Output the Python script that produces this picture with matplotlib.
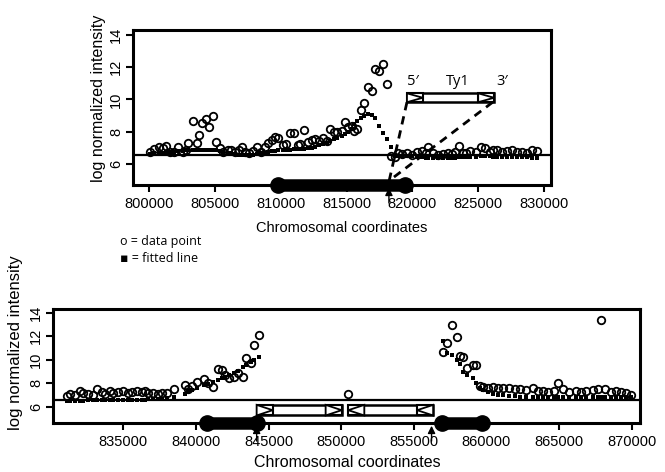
# Ty1 insertion plots: log normalized intensity vs chromosomal coordinates
import matplotlib
matplotlib.use('Agg')
import matplotlib.pyplot as plt
from matplotlib.patches import Rectangle, Polygon
import numpy as np

# ---- top panel data ----
top_x = [800080, 800400, 800780, 801090, 801290, 801590, 801920, 802220, 802550, 802800,
         802980, 803310, 803620, 803820, 804000, 804330, 804580, 804830, 805090, 805390,
         805640, 805970, 806220, 806530, 806800, 807040, 807290, 807610, 807920, 808170,
         808500, 808800, 809060, 809310, 809560, 809810, 810150, 810400, 810700, 811030,
         811280, 811500, 811790, 812090, 812350, 812600, 812930, 813230, 813490, 813740,
         814040, 814250, 814630, 814880, 815130, 815380, 815600, 815810, 816090, 816320,
         816650, 816900, 817150, 817480, 817740, 818040, 818400, 818670, 818920, 819200,
         819560, 819940, 820360, 820700, 821000, 821200, 821580, 821960, 822340, 822720,
         823000, 823230, 823550, 823860, 824100, 824360, 824870, 825250, 825500, 825880,
         826150, 826390, 826770, 827150, 827530, 827910, 828290, 828670, 829050, 829430]
top_y = [6.76, 6.93, 7.07, 7.00, 7.13, 6.76, 6.72, 7.07, 6.76, 6.90,
         7.28, 8.65, 7.28, 7.80, 8.55, 8.76, 8.27, 8.96, 7.38, 6.97,
         6.76, 6.86, 6.86, 6.76, 6.90, 7.03, 6.76, 6.70, 6.82, 7.03,
         6.76, 7.07, 7.31, 7.48, 7.69, 7.59, 7.17, 7.23, 7.90, 7.90,
         7.17, 7.25, 8.10, 7.38, 7.48, 7.52, 7.44, 7.59, 7.44, 8.20,
         8.00, 8.00, 8.04, 8.61, 8.30, 8.35, 8.04, 8.14, 9.33, 9.75,
         10.77, 10.52, 11.90, 11.76, 12.20, 10.94, 6.50, 6.45, 6.66, 6.60,
         6.66, 6.56, 6.76, 6.82, 6.70, 7.07, 6.66, 6.56, 6.62, 6.70,
         6.62, 6.76, 7.13, 6.70, 6.66, 6.82, 6.76, 7.07, 7.00, 6.76,
         6.86, 6.90, 6.76, 6.82, 6.86, 6.76, 6.76, 6.66, 6.86, 6.80]
top_fit = [6.65, 6.66, 6.68, 6.70, 6.72, 6.74, 6.77, 6.80, 6.83, 6.85,
           6.86, 6.88, 6.89, 6.90, 6.90, 6.90, 6.89, 6.87, 6.84, 6.80,
           6.76, 6.71, 6.67, 6.62, 6.59, 6.57, 6.56, 6.57, 6.59, 6.62,
           6.66, 6.71, 6.75, 6.79, 6.83, 6.86, 6.88, 6.89, 6.90, 6.91,
           6.92, 6.93, 6.95, 6.98, 7.02, 7.07, 7.15, 7.24, 7.33, 7.42,
           7.52, 7.60, 7.75, 7.88, 8.00, 8.20, 8.45, 8.65, 8.88, 9.00,
           9.07, 9.02, 8.84, 8.35, 7.90, 7.55, 7.07, 6.47, 6.47, 6.48,
           6.48, 6.47, 6.45, 6.43, 6.40, 6.38, 6.36, 6.35, 6.35, 6.36,
           6.37, 6.39, 6.41, 6.43, 6.44, 6.45, 6.46, 6.47, 6.47, 6.47,
           6.46, 6.46, 6.45, 6.44, 6.43, 6.42, 6.41, 6.41, 6.40, 6.40]

# ---- bottom panel data ----
bot_x = [831100, 831330, 831670, 832020, 832250, 832590, 832890, 833170, 833510, 833740,
         834080, 834310, 834660, 835000, 835340, 835580, 835920, 836270, 836490, 836720,
         837060, 837410, 837640, 837990, 838510, 839250, 839470, 839710, 840050, 840570,
         840850, 841190, 841490, 841770, 841990, 842290, 842620, 842910, 843210, 843420,
         843760, 844010, 844340,
         850440,
         857000, 857290, 857660, 857940, 858170, 858390, 858630, 859040, 859310, 859540,
         859770, 860110, 860460, 860800, 861140, 861560, 861950, 862290, 862750, 863210,
         863550, 863900, 864240, 864630, 864930, 865270, 865680, 866150, 866540, 866880,
         867340, 867680, 867870, 868140, 868600, 868950, 869290, 869630, 869980]
bot_y = [6.91, 7.08, 7.00, 7.36, 7.19, 7.08, 7.00, 7.48, 7.22, 7.08,
         7.36, 7.14, 7.28, 7.36, 7.19, 7.28, 7.36, 7.22, 7.36, 7.19,
         7.14, 7.08, 7.14, 7.19, 7.48, 7.85, 7.48, 7.76, 8.13, 8.36,
         7.99, 7.70, 9.18, 9.12, 8.70, 8.42, 8.50, 8.84, 8.55, 10.12,
         9.75, 11.25, 12.10,
         7.08,
         10.68, 11.45, 12.95, 11.90, 10.30, 10.26, 9.27, 9.55, 9.55, 7.76,
         7.65, 7.56, 7.70, 7.56, 7.56, 7.56, 7.48, 7.48, 7.42, 7.56,
         7.36, 7.36, 7.28, 7.36, 8.04, 7.48, 7.28, 7.36, 7.28, 7.36,
         7.42, 7.48, 13.38, 7.48, 7.28, 7.36, 7.28, 7.19, 7.00]
bot_fit = [6.50, 6.50, 6.51, 6.52, 6.52, 6.53, 6.53, 6.54, 6.55, 6.55,
           6.56, 6.56, 6.57, 6.57, 6.58, 6.58, 6.59, 6.59, 6.60, 6.61,
           6.62, 6.64, 6.66, 6.72, 6.85, 7.10, 7.30, 7.40, 7.55, 7.80,
           7.95, 8.10, 8.25, 8.40, 8.55, 8.70, 8.85, 9.00, 9.35, 9.55,
           9.80, 10.00, 10.25,
           np.nan,
           11.60, 10.54, 10.40, 9.97, 9.63, 8.98, 8.70, 8.42, 7.99, 7.56,
           7.40, 7.28, 7.08, 7.00, 6.95, 6.91, 6.88, 6.86, 6.85, 6.84,
           6.84, 6.83, 6.83, 6.83, 6.83, 6.82, 6.82, 6.82, 6.82, 6.82,
           6.82, 6.82, 6.82, 6.82, 6.82, 6.81, 6.81, 6.81, 6.81]

baseline = 6.55
top_bar = (809800, 819440)
top_arrow = 818220
bot_bars = [(840740, 844180), (856910, 859670)]
bot_arrows = [844180, 856220]
# (start, end, direction) of the elements in the bottom panel
bot_te = [(844180, 850030, 1), (850490, 856330, -1)]
ty1_box = (819590, 826200)

tick_font = 'Liberation Sans'


def draw_te(ax, x0, x1, y0, y1, ltr, direction):
    ax.add_patch(Rectangle((x0, y0), x1 - x0, y1 - y0, fc='white', ec='k', lw=1.8,
                           clip_on=False, zorder=4))
    ym = (y0 + y1) / 2
    for a, b in [(x0, x0 + ltr), (x1 - ltr, x1)]:
        ax.add_patch(Rectangle((a, y0), b - a, y1 - y0, fc='white', ec='k', lw=1.5,
                               clip_on=False, zorder=5))
        if direction > 0:
            pts = [(a, y0), (a, y1), (b, ym)]
        else:
            pts = [(b, y0), (b, y1), (a, ym)]
        ax.add_patch(Polygon(pts, closed=True, fc='white', ec='k', lw=1.3,
                             clip_on=False, zorder=6))


def panel(ax, xs, ys, fit, xlim, ylim, xticks):
    ax.plot(xs, fit, 's', color='k', ms=2.3, mew=0, zorder=3)
    ax.plot(xs, ys, 'o', mfc='none', mec='k', ms=5.4, mew=1.3, zorder=3)
    ax.axhline(baseline, color='k', lw=1.6, zorder=2)
    ax.set_xlim(*xlim)
    ax.set_ylim(*ylim)
    ax.set_xticks(xticks)
    ax.set_xticklabels([str(t) for t in xticks])
    ax.set_yticks([6, 8, 10, 12, 14])
    for s in ax.spines.values():
        s.set_linewidth(2.2)
    ax.tick_params(length=5, width=1.5, labelsize=10.5)
    ax.tick_params(axis='y', pad=2)
    for lab in ax.get_xticklabels() + ax.get_yticklabels():
        lab.set_family(tick_font)
    plt.setp(ax.get_yticklabels(), rotation=90, va='center')


def bar(ax, x0, x1, y):
    ax.plot([x0, x1], [y, y], color='k', lw=9, solid_capstyle='butt',
            clip_on=False, zorder=6)
    ax.plot([x0, x1], [y, y], 'o', color='k', ms=11, clip_on=False, zorder=6)


def arrow(ax, x):
    ax.annotate('', xy=(x, 0), xycoords=('data', 'axes fraction'),
                xytext=(0, -15), textcoords='offset points',
                arrowprops=dict(arrowstyle='-|>', color='k', lw=1.0, mutation_scale=11),
                annotation_clip=False, zorder=7)


fig = plt.figure(figsize=(6.65, 4.72), dpi=100)

# top panel
ax1 = fig.add_axes([0.2, 0.608, 0.6286, 0.3284])
panel(ax1, top_x, top_y, top_fit, (798785, 830530), (4.7, 14.3),
      list(range(800000, 830001, 5000)))
bar(ax1, top_bar[0], top_bar[1], 4.7)
arrow(ax1, top_arrow)
draw_te(ax1, ty1_box[0], ty1_box[1], 9.83, 10.38, 1200, 1)
ax1.plot([ty1_box[0], top_arrow], [9.83, 4.9], color='k', lw=2, ls=(0, (3, 2.2)),
         clip_on=False, zorder=4)
ax1.plot([ty1_box[1] - 100, 818450], [9.83, 5.1], color='k', lw=2, ls=(0, (3, 2.2)),
         clip_on=False, zorder=4)
lab_font = ['Open Sans', 'DejaVu Sans']
ax1.text(820050, 11.1, '5\u2032', ha='center', va='center', fontsize=10.5, family=lab_font)
ax1.text(823460, 11.1, 'Ty1', ha='center', va='center', fontsize=10.5, family=lab_font)
ax1.text(826800, 11.1, '3\u2032', ha='center', va='center', fontsize=10.5, family=lab_font)

fig.text(0.514, 0.517, 'Chromosomal coordinates', ha='center', va='center',
         fontsize=10.5, family=tick_font)
fig.text(0.148, 0.791, 'log normalized intensity', ha='center', va='center',
         rotation=90, fontsize=11.5, family=tick_font)

fig.text(0.18, 0.489, 'o = data point', ha='left', va='center', fontsize=9,
         family=lab_font)
fig.text(0.18, 0.453, '\u25aa = fitted line', ha='left', va='center', fontsize=9,
         family=lab_font)

# bottom panel
ax2 = fig.add_axes([0.0797, 0.1038, 0.8827, 0.2415])
panel(ax2, bot_x, bot_y, bot_fit, (830160, 870570), (4.61, 14.3),
      list(range(835000, 870001, 5000)))
for x0, x1 in bot_bars:
    bar(ax2, x0, x1, 4.61)
for x in bot_arrows:
    arrow(ax2, x)
for x0, x1, d in bot_te:
    draw_te(ax2, x0, x1, 5.25, 6.15, 1100, d)

fig.text(0.522, 0.021, 'Chromosomal coordinates', ha='center', va='center',
         fontsize=11.5, family=tick_font)
fig.text(0.024, 0.275, 'log normalized intensity', ha='center', va='center',
         rotation=90, fontsize=12, family=tick_font)

fig.savefig('out.png', dpi=100)
